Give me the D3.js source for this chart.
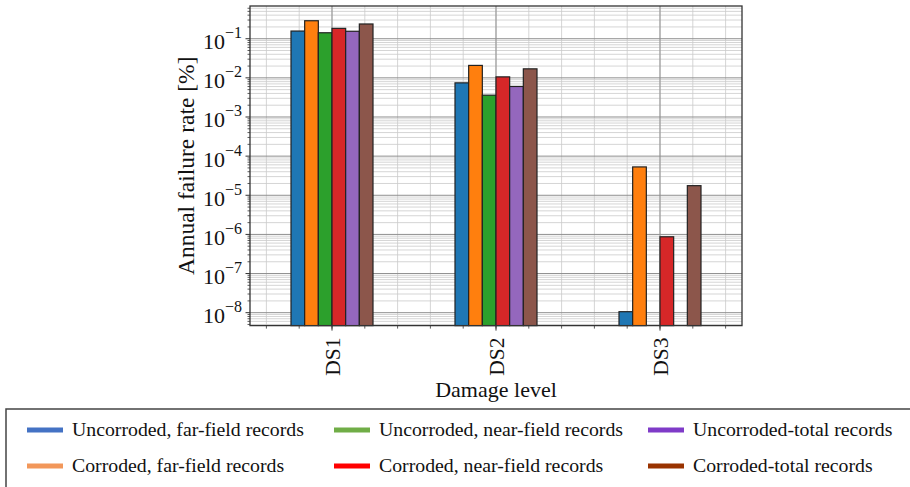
<!DOCTYPE html>
<html>
<head>
<meta charset="utf-8">
<script src="https://cdn.jsdelivr.net/npm/d3@7"></script>
<style>
  body { margin: 0; background: #fff; }
  svg { display: block; }
  text { font-family: "Liberation Serif", "Times New Roman", serif; fill: #111; }
</style>
</head>
<body>
<svg id="chart" width="910" height="487"></svg>
<script>
// damage levels on the x axis
var damageLevels = ['DS1', 'DS2', 'DS3'];

// bar series (drawing order inside each group)
var seriesNames = [
    'Uncorroded, far-field records',
    'Corroded, far-field records',
    'Uncorroded, near-field records',
    'Corroded, near-field records',
    'Uncorroded-total records',
    'Corroded-total records'
];
var barColors = ['#1f77b4', '#ff7f0e', '#2ca02c', '#d62728', '#9467bd', '#8c564b'];

// annual failure rate [%] per series, one value per damage level (null = no bar)
var uncorrodedFar   = [0.157, 0.00745, 1.06e-8];
var corrodedFar     = [0.288, 0.0208, 5.3e-5];
var uncorrodedNear  = [0.142, 0.00361, null];
var corrodedNear    = [0.184, 0.0106, 8.7e-7];
var uncorrodedTotal = [0.155, 0.00603, null];
var corrodedTotal   = [0.238, 0.0170, 1.76e-5];
var seriesValues = [uncorrodedFar, corrodedFar, uncorrodedNear, corrodedNear, uncorrodedTotal, corrodedTotal];

// y tick exponents
var yTickExps = [-1, -2, -3, -4, -5, -6, -7, -8];

// legend (laid out in rows of three, colours as in the original legend box)
var legendNames = [
    'Uncorroded, far-field records', 'Uncorroded, near-field records', 'Uncorroded-total records',
    'Corroded, far-field records', 'Corroded, near-field records', 'Corroded-total records'
];
var legendColors = ['#4472c4', '#70ad47', '#7f3bc8', '#f2975a', '#ff0000', '#993300'];

var svg = d3.select('#chart');
var pLeft = 250, pRight = 742, pTop = 6, pBottom = 325.6;

var x = d3.scaleLinear().domain([-0.5, 2.5]).range([pLeft, pRight]);
var y = d3.scaleLog().domain([Math.pow(10, -8.33), Math.pow(10, -0.164)]).range([pBottom, pTop]);

var grid = svg.append('g');

// minor horizontal grid
var minorY = [];
for (let e = -9; e <= 0; e++) {
    for (let m = 2; m <= 9; m++) {
        let v = m * Math.pow(10, e);
        if (v > y.domain()[0] && v < y.domain()[1]) minorY.push(v);
    }
}
grid.selectAll('.ymin').data(minorY).enter().append('line')
    .attr('x1', pLeft).attr('x2', pRight)
    .attr('y1', d => y(d)).attr('y2', d => y(d))
    .attr('stroke', '#cacaca').attr('stroke-width', 0.8);

// minor vertical grid every 0.2
var minorX = d3.range(-0.4, 2.45, 0.2).map(d => Math.round(d * 10) / 10);
grid.selectAll('.xmin').data(minorX).enter().append('line')
    .attr('x1', d => x(d)).attr('x2', d => x(d))
    .attr('y1', pTop).attr('y2', pBottom)
    .attr('stroke', '#cacaca').attr('stroke-width', 0.8);

// major grid
grid.selectAll('.ymaj').data(yTickExps).enter().append('line')
    .attr('x1', pLeft).attr('x2', pRight)
    .attr('y1', d => y(Math.pow(10, d))).attr('y2', d => y(Math.pow(10, d)))
    .attr('stroke', '#8f8f8f').attr('stroke-width', 1);
grid.selectAll('.xmaj').data(damageLevels).enter().append('line')
    .attr('x1', (d, i) => x(i)).attr('x2', (d, i) => x(i))
    .attr('y1', pTop).attr('y2', pBottom)
    .attr('stroke', '#8f8f8f').attr('stroke-width', 1);

// bars
var nSeries = seriesNames.length;
var barW = 0.5 / nSeries;
for (let j = 0; j < nSeries; j++) {
    let pts = seriesValues[j].map((v, i) => ({ i: i, v: v })).filter(d => d.v !== null);
    svg.append('g').selectAll('rect').data(pts).enter().append('rect')
        .attr('x', d => x(d.i - 0.25 + j * barW))
        .attr('width', x(barW) - x(0))
        .attr('y', d => y(d.v))
        .attr('height', d => pBottom - y(d.v))
        .attr('fill', barColors[j])
        .attr('stroke', '#222').attr('stroke-width', 1.2);
}

// frame
svg.append('rect').attr('x', pLeft).attr('y', pTop)
    .attr('width', pRight - pLeft).attr('height', pBottom - pTop)
    .attr('fill', 'none').attr('stroke', '#333').attr('stroke-width', 1.3);

// y ticks
var ax = svg.append('g');
ax.selectAll('.ytm').data(minorY).enter().append('line')
    .attr('x1', pLeft - 2.5).attr('x2', pLeft)
    .attr('y1', d => y(d)).attr('y2', d => y(d))
    .attr('stroke', '#333').attr('stroke-width', 0.8);
ax.selectAll('.ytM').data(yTickExps).enter().append('line')
    .attr('x1', pLeft - 4.5).attr('x2', pLeft)
    .attr('y1', d => y(Math.pow(10, d))).attr('y2', d => y(Math.pow(10, d)))
    .attr('stroke', '#333').attr('stroke-width', 1);
var yl = ax.selectAll('.ylab').data(yTickExps).enter().append('text')
    .attr('x', pLeft - 8).attr('y', d => y(Math.pow(10, d)) + 10.5)
    .attr('text-anchor', 'end').style('font-size', '22px');
yl.append('tspan').text('10');
yl.append('tspan').attr('dy', -11).style('font-size', '16px').text(d => '\u2212' + Math.abs(d));

// x ticks
ax.selectAll('.xtm').data(minorX).enter().append('line')
    .attr('x1', d => x(d)).attr('x2', d => x(d))
    .attr('y1', pBottom).attr('y2', pBottom + 3)
    .attr('stroke', '#333').attr('stroke-width', 0.8);
ax.selectAll('.xtM').data(damageLevels).enter().append('line')
    .attr('x1', (d, i) => x(i)).attr('x2', (d, i) => x(i))
    .attr('y1', pBottom).attr('y2', pBottom + 5)
    .attr('stroke', '#333').attr('stroke-width', 1);
ax.selectAll('.xlab').data(damageLevels).enter().append('text')
    .attr('transform', (d, i) => 'translate(' + (x(i) + 7.5) + ',' + (pBottom + 12) + ') rotate(-90)')
    .attr('text-anchor', 'end').style('font-size', '21.5px').text(d => d);

// axis titles
svg.append('text').attr('x', (pLeft + pRight) / 2).attr('y', 397)
    .attr('text-anchor', 'middle').style('font-size', '22px').text('Damage level');
svg.append('text').attr('transform', 'translate(194,' + ((pTop + pBottom) / 2) + ') rotate(-90)')
    .attr('text-anchor', 'middle').style('font-size', '23.5px').text('Annual failure rate [%]');

// legend box
var lg = svg.append('g');
lg.append('rect').attr('x', 6).attr('y', 409).attr('width', 910).attr('height', 90)
    .attr('fill', '#fff').attr('stroke', '#444').attr('stroke-width', 1.5);
var colX = [27, 334, 648];
var rowY = [430, 466];
legendNames.forEach(function (name, k) {
    let cx = colX[k % 3], cy = rowY[Math.floor(k / 3)];
    lg.append('rect').attr('x', cx).attr('y', cy - 2.5).attr('width', 36).attr('height', 5)
        .attr('fill', legendColors[k]);
    lg.append('text').attr('x', cx + 45).attr('y', cy + 6)
        .style('font-size', '19.8px').text(name);
});
</script>
</body>
</html>
